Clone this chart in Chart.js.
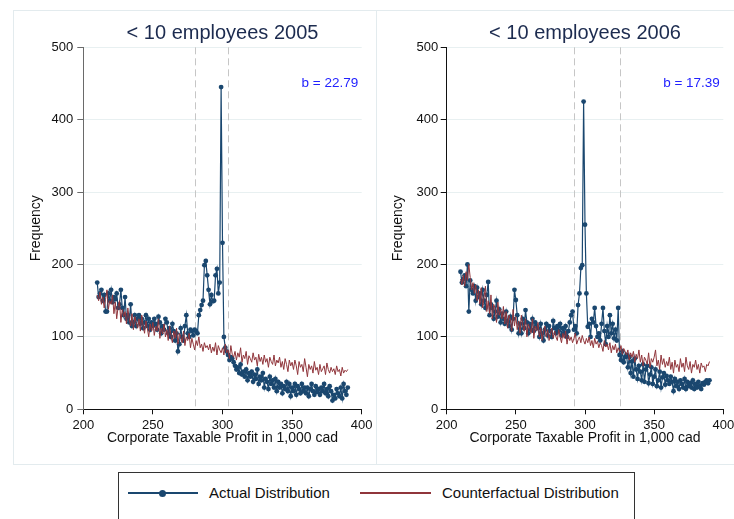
<!DOCTYPE html>
<html>
<head>
<meta charset="utf-8">
<script src="https://cdn.jsdelivr.net/npm/chart.js@4.4.1/dist/chart.umd.min.js"></script>
<style>
  html, body { margin: 0; padding: 0; background: #fff; overflow: hidden; width: 734px; height: 519px; }
  body { position: relative; font-family: 'Liberation Sans', Arial, Helvetica, sans-serif; }
  canvas { position: absolute; top: 0; }
  #frame { position: absolute; left: 13px; top: 10px; width: 740px; height: 455px; border: 1px solid #e3ebee; box-sizing: border-box; }
  #divider { position: absolute; left: 376px; top: 10px; width: 1px; height: 455px; background: #e3ebee; }
  #legend { position: absolute; left: 118px; top: 472px; width: 517px; height: 70px; border: 1px solid #333; box-sizing: border-box; background: #fff; }
  .lg-line { position: absolute; height: 2px; }
  .lg-dot { position: absolute; width: 7px; height: 7px; border-radius: 50%; }
  .lg-text { position: absolute; font-size: 15px; line-height: 18px; color: #111; white-space: nowrap; }
</style>
</head>
<body>
<div id="frame"></div>
<div id="divider"></div>
<canvas id="c2005" width="376" height="465" style="left:0px;width:376px;height:465px"></canvas>
<canvas id="c2006" width="370" height="465" style="left:376px;width:370px;height:465px"></canvas>
<div id="legend">
  <div class="lg-line" style="left:9px;top:19px;width:70px;background:#1a476f"></div>
  <div class="lg-dot" style="left:40px;top:16.5px;background:#1a476f"></div>
  <div class="lg-text" id="lg1" style="left:90px;top:11px"></div>
  <div class="lg-line" style="left:241px;top:19px;width:71px;height:1.5px;background:#90353b"></div>
  <div class="lg-text" id="lg2" style="left:323px;top:11px"></div>
</div>
<script>
// ---------------- DATA ----------------
const panelTitles = ['< 10 employees 2005', '< 10 employees 2006'];
const seriesNames = ['Actual Distribution', 'Counterfactual Distribution'];
const bLabels = ['b = 22.79', 'b = 17.39'];
const cutoffs2005 = [280, 304];
const cutoffs2006 = [292, 325];
const xTicks = [200, 250, 300, 350, 400];
const yTicks = [0, 100, 200, 300, 400, 500];
const xTitle = 'Corporate Taxable Profit in 1,000 cad';
const yTitle = 'Frequency';

// profit bins (1,000 cad), 210 ... 390
const bins = [];
for (let b = 210; b <= 390; b++) bins.push(b);

const actual2005 = [
  175,155,160,165,150,158,135,135,160,150,
  165,148,155,152,160,140,145,165,140,130,
  155,125,130,120,145,115,120,130,115,125,
  130,118,125,112,120,130,115,125,110,120,
  115,125,118,110,128,120,105,115,110,125,
  120,105,112,100,118,108,95,105,80,90,
  112,100,95,115,130,105,100,110,108,102,
  110,108,105,130,137,144,150,199,205,185,
  165,145,158,149,150,185,194,160,175,445,
  230,100,85,80,75,68,72,70,65,60,
  55,58,50,62,48,52,45,55,40,50,
  45,52,38,48,42,55,35,45,40,50,
  30,42,38,28,45,35,40,30,42,25,
  38,30,35,22,32,28,38,25,35,18,
  30,25,35,20,32,28,22,35,25,30,
  22,30,18,28,35,25,20,32,24,28,
  20,30,25,35,22,28,18,32,25,12,
  20,15,28,22,18,30,15,35,25,20,
  30
];
const counter2005 = [
  158,150,162,145,155,140,152,165,138,150,
  145,158,132,148,125,142,150,120,138,128,
  135,118,140,125,115,132,110,128,120,112,
  125,108,130,115,105,122,112,100,118,108,
  120,102,115,108,125,98,112,104,118,100,
  110,95,115,102,92,108,98,112,90,105,
  100,92,108,88,100,95,105,85,98,90,
  82,95,88,100,85,90,80,92,85,88,
  82,90,78,86,80,92,75,88,82,78,
  85,75,90,78,82,70,88,76,72,80,
  68,78,72,85,65,75,70,80,62,74,
  70,65,78,68,72,60,76,66,72,62,
  75,65,70,58,72,66,62,75,60,68,
  64,72,58,66,55,70,62,52,68,60,
  65,55,68,60,48,66,58,62,52,70,
  58,45,62,55,60,50,66,54,58,48,
  62,52,56,60,48,64,55,50,58,52,
  56,48,60,52,55,46,58,50,54,52,
  55
];
const actual2006 = [
  190,175,180,185,170,200,135,178,165,160,
  170,150,168,155,160,145,165,150,140,158,
  176,130,145,140,125,135,150,128,138,120,
  132,125,118,135,122,115,128,110,125,165,
  151,130,105,118,105,125,112,137,120,105,
  118,110,125,108,120,115,112,100,118,105,
  95,110,118,102,115,108,100,122,112,105,
  115,108,118,102,112,105,115,100,108,120,
  130,135,110,115,105,144,160,195,199,425,
  255,160,114,118,100,125,120,140,115,100,
  105,95,118,140,108,90,115,100,130,105,
  118,98,110,95,140,75,68,80,65,72,
  75,58,72,50,66,45,70,55,42,60,
  52,40,62,38,55,60,36,48,58,35,
  45,55,32,40,52,30,44,50,34,46,
  40,35,45,38,25,42,32,38,28,40,
  35,30,42,28,38,32,36,30,40,28,
  35,30,38,32,28,36,34,38,40,36,
  40
];
const counter2006 = [
  180,172,185,170,190,178,200,182,165,175,
  160,172,150,165,145,168,140,155,170,135,
  150,132,158,125,145,140,120,148,130,138,
  125,142,118,135,112,130,125,108,138,115,
  128,110,122,105,130,115,108,125,100,118,
  112,105,125,98,115,108,120,100,112,95,
  108,115,100,110,95,105,112,98,108,100,
  95,110,100,92,105,98,108,90,102,95,
  100,92,98,105,90,96,100,92,102,95,
  90,98,92,100,88,95,85,98,90,94,
  85,92,88,80,95,86,90,82,92,78,
  88,82,90,78,85,80,88,76,84,80,
  75,82,68,78,72,80,65,76,70,82,
  65,75,60,72,68,62,78,58,70,65,
  72,82,60,68,55,75,62,70,58,66,
  60,72,55,65,50,68,58,62,52,70,
  58,64,52,72,60,55,66,50,62,58,
  68,55,62,50,64,58,60,52,62,60,
  66
];

// ---------------- STYLE ----------------
const BLUE = '#1a476f';
const RED = '#90353b';
const FONT = "'Liberation Sans', Arial, Helvetica, sans-serif";

document.getElementById('lg1').textContent = seriesNames[0];
document.getElementById('lg2').textContent = seriesNames[1];

const annotPlugin = {
  id: 'annot',
  beforeDatasetsDraw(chart, args, opts) {
    const { ctx, chartArea, scales: { x } } = chart;
    ctx.save();
    ctx.strokeStyle = '#c6c6c6';
    ctx.lineWidth = 1;
    ctx.setLineDash([7, 4]);
    opts.cutoffs.forEach(v => {
      const px = Math.round(x.getPixelForValue(v)) + 0.5;
      ctx.beginPath();
      ctx.moveTo(px, chartArea.top);
      ctx.lineTo(px, chartArea.bottom);
      ctx.stroke();
    });
    ctx.restore();
  },
  afterDatasetsDraw(chart, args, opts) {
    const { ctx, scales: { x, y } } = chart;
    ctx.save();
    ctx.fillStyle = '#2222ff';
    ctx.font = '13.5px ' + FONT;
    ctx.textAlign = 'right';
    ctx.textBaseline = 'middle';
    ctx.fillText(opts.label, x.getPixelForValue(397.5), y.getPixelForValue(450));
    ctx.restore();
  }
};

function makeChart(id, title, actual, counter, cutoffs, bLabel, cfg) {
  const toPts = arr => arr.map((v, i) => ({ x: bins[i], y: v }));
  return new Chart(document.getElementById(id), {
    type: 'line',
    data: {
      datasets: [
        {
          label: seriesNames[0],
          data: toPts(actual),
          borderColor: BLUE,
          backgroundColor: BLUE,
          borderWidth: 1.2,
          pointRadius: 2.4,
          pointBorderWidth: 0,
          pointBackgroundColor: BLUE,
          tension: 0,
          order: 1
        },
        {
          label: seriesNames[1],
          data: toPts(counter),
          borderColor: RED,
          backgroundColor: RED,
          borderWidth: 1,
          pointRadius: 0,
          tension: 0,
          order: 0
        }
      ]
    },
    options: {
      responsive: false,
      animation: false,
      devicePixelRatio: 1,
      layout: { padding: { left: 0, right: cfg.padRight, top: 0, bottom: 0 } },
      plugins: {
        legend: { display: false },
        tooltip: { enabled: false },
        title: {
          display: true,
          text: title,
          fullSize: false,
          color: '#1c2b4f',
          font: { family: FONT, size: 20, weight: 'normal', lineHeight: 1.2 },
          padding: { top: 21, bottom: 2.3 }
        },
        annot: { cutoffs: cutoffs, label: bLabel }
      },
      scales: {
        x: {
          type: 'linear',
          min: 200,
          max: 400,
          afterBuildTicks: s => { s.ticks = xTicks.map(v => ({ value: v })); },
          afterFit: s => { s.height = 55.7; },
          ticks: { color: '#111', font: { family: FONT, size: 13 }, padding: 3, maxRotation: 0, autoSkip: false },
          grid: { drawOnChartArea: false, drawTicks: true, tickLength: 5, tickColor: '#111' },
          border: { color: '#111', width: 1 },
          title: {
            display: true, text: xTitle, color: '#111',
            font: { family: FONT, size: 14, lineHeight: 1.2 },
            padding: { top: 0, bottom: 18.6 }
          }
        },
        y: {
          type: 'linear',
          min: 0,
          max: 500,
          afterBuildTicks: s => { s.ticks = yTicks.map(v => ({ value: v })); },
          afterFit: s => { s.width = cfg.yWidth; },
          ticks: { color: '#111', font: { family: FONT, size: 13 }, padding: cfg.yPad, autoSkip: false },
          grid: { color: '#e8f0f1', lineWidth: 1, drawTicks: true, tickLength: 6, tickColor: cfg.axisColor },
          border: { color: cfg.axisColor, width: 1 },
          title: {
            display: true, text: yTitle, color: '#111',
            font: { family: FONT, size: 14, lineHeight: 1.2 },
            padding: { top: cfg.yTitlePad, bottom: 0 }
          }
        }
      }
    },
    plugins: [annotPlugin]
  });
}

makeChart('c2005', panelTitles[0], actual2005, counter2005, cutoffs2005, bLabels[0],
  { padRight: 14.3, yWidth: 83.3, yPad: 4, yTitlePad: 27.6, axisColor: '#6a6a6a' });
makeChart('c2006', panelTitles[1], actual2006, counter2006, cutoffs2006, bLabels[1],
  { padRight: 22.7, yWidth: 70.7, yPad: 2.5, yTitlePad: 14, axisColor: '#111' });
</script>
</body>
</html>
